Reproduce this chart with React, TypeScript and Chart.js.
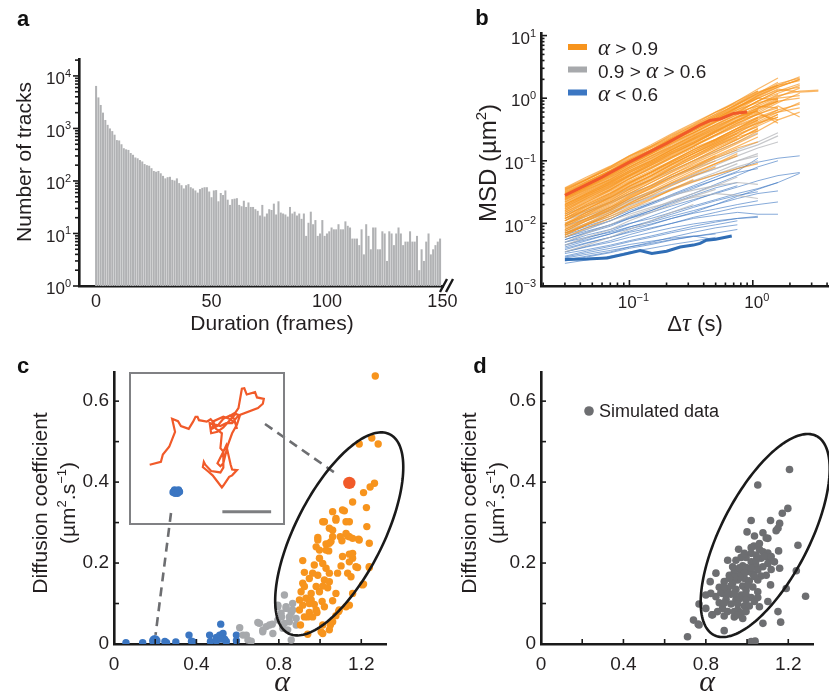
import React, { useEffect, useRef } from "react";
import { Chart, registerables } from "chart.js";
Chart.register(...registerables);

const SANS = '"Liberation Sans", Arial, Helvetica, sans-serif';
const SERIF = '"Liberation Serif", "Times New Roman", serif';
Chart.defaults.font.family = SANS;
Chart.defaults.color = "#222";

// ---------------- Panel a: histogram of track durations ----------------
const HIST_COUNTS = [
  6450, 3900, 2800, 2000, 1450, 1170, 1000, 890, 760, 600,
  590, 500, 420, 400, 390, 340, 315, 280, 270, 250,
  235, 210, 200, 195, 175, 155, 150, 155, 140, 125,
  112, 118, 120, 105, 102, 112, 91, 83, 72, 83,
  87, 76, 72, 66, 60, 70, 74, 76, 76, 63,
  49, 66, 67, 41, 59, 54, 66, 44, 35, 45,
  46, 47, 35, 33, 42, 32, 39, 32, 32, 29,
  27, 22, 35, 21, 24, 29, 28, 37, 23, 41,
  25, 24, 23, 21, 32, 24, 26, 22, 24, 19,
  24, 9, 16, 26, 15, 18, 9, 10, 18, 9,
  10, 11, 13, 12, 12, 15, 12, 12, 17, 14,
  13, 8, 8, 8, 6, 12, 4, 15, 9, 5,
  13, 13, 5, 5, 11, 10, 3, 11, 10, 6,
  10, 13, 10, 6, 7, 7, 11, 7, 7, 9,
  2, 5, 3, 7, 10, 4, 5, 6, 7, 8,
];
const A_XTICKS = [0, 50, 100, 150];
const A_YEXP = [0, 1, 2, 3, 4];

// ---------------- Panel b: MSD curves ----------------
const TAU = [0.03, 0.045, 0.07, 0.1, 0.15, 0.22, 0.33, 0.5, 0.75, 1.1, 1.6, 2.4, 3.4];
const ORANGE_TRACKS = [
  [0.036, 0.052, 0.08, 0.12, 0.17, 0.26, 0.38, 0.6, 0.85, 1.3],
  [0.033, 0.05, 0.075, 0.105, 0.16, 0.23, 0.35, 0.52, 0.8, 1.2, 1.8],
  [0.03, 0.044, 0.068, 0.1, 0.14, 0.21, 0.3, 0.44, 0.7, 1.05, 1.5, 2.0],
  [0.028, 0.04, 0.06, 0.09, 0.13, 0.2, 0.28, 0.42, 0.6, 0.9, 1.2, 1.6],
  [0.025, 0.037, 0.055, 0.08, 0.12, 0.17, 0.26, 0.38, 0.55, 0.8, 1.1, 1.3, 1.35],
  [0.024, 0.035, 0.05, 0.075, 0.11, 0.16, 0.24, 0.36, 0.5, 0.62, 0.9],
  [0.022, 0.032, 0.048, 0.07, 0.1, 0.15, 0.22, 0.32, 0.48, 0.7, 1.0],
  [0.02, 0.03, 0.045, 0.065, 0.095, 0.14, 0.2, 0.3, 0.42, 0.65],
  [0.02, 0.029, 0.042, 0.06, 0.09, 0.13, 0.19, 0.28, 0.4, 0.55, 0.75, 0.5],
  [0.018, 0.027, 0.04, 0.058, 0.085, 0.12, 0.18, 0.26, 0.37, 0.5],
  [0.017, 0.025, 0.037, 0.055, 0.08, 0.115, 0.17, 0.25, 0.36, 0.48, 0.6, 0.7],
  [0.016, 0.024, 0.035, 0.052, 0.075, 0.11, 0.16, 0.22, 0.33, 0.45],
  [0.015, 0.022, 0.033, 0.048, 0.07, 0.1, 0.15, 0.21, 0.3, 0.4, 0.5],
  [0.014, 0.021, 0.031, 0.046, 0.066, 0.095, 0.14, 0.2, 0.28, 0.42, 0.6, 0.85],
  [0.013, 0.019, 0.028, 0.042, 0.062, 0.09, 0.13, 0.19, 0.27, 0.35],
  [0.012, 0.018, 0.027, 0.04, 0.058, 0.085, 0.12, 0.18, 0.25, 0.38, 0.55],
  [0.012, 0.017, 0.025, 0.037, 0.055, 0.08, 0.115, 0.17, 0.24, 0.3],
  [0.011, 0.016, 0.024, 0.035, 0.05, 0.075, 0.11, 0.16, 0.23],
  [0.01, 0.015, 0.022, 0.032, 0.048, 0.07, 0.1, 0.15, 0.22, 0.32],
  [0.0095, 0.014, 0.021, 0.03, 0.045, 0.065, 0.095, 0.14, 0.2, 0.3, 0.45, 0.6],
  [0.009, 0.013, 0.019, 0.028, 0.041, 0.06, 0.085, 0.12, 0.17, 0.24],
  [0.0085, 0.012, 0.018, 0.026, 0.038, 0.055, 0.08, 0.115, 0.16, 0.2],
  [0.008, 0.0115, 0.017, 0.025, 0.036, 0.052, 0.075, 0.11, 0.15],
  [0.0075, 0.011, 0.016, 0.023, 0.033, 0.048, 0.07, 0.1],
  [0.007, 0.01, 0.015, 0.021, 0.03, 0.044, 0.062, 0.09, 0.13],
  [0.0065, 0.0095, 0.014, 0.02, 0.028, 0.04, 0.057, 0.08],
  [0.006, 0.0085, 0.012, 0.017, 0.024, 0.035, 0.05],
  [0.03, 0.045, 0.07, 0.1, 0.15, 0.22, 0.33, 0.5, 0.78, 1.15, 1.7, 2.1],
  [0.027, 0.04, 0.062, 0.095, 0.14, 0.21, 0.32, 0.47, 0.7, 1.0, 1.4, 1.25, 1.3],
  [0.023, 0.034, 0.052, 0.078, 0.115, 0.17, 0.25, 0.37, 0.55, 0.8, 1.15],
  [0.019, 0.028, 0.043, 0.064, 0.095, 0.14, 0.21, 0.31, 0.45, 0.68, 0.95],
  [0.015, 0.023, 0.035, 0.052, 0.078, 0.115, 0.17, 0.26, 0.4, 0.58, 0.85, 1.2],
  [0.013, 0.02, 0.03, 0.045, 0.066, 0.1, 0.15, 0.22, 0.33, 0.5, 0.65],
  [0.011, 0.017, 0.026, 0.039, 0.058, 0.088, 0.13, 0.2, 0.3, 0.44],
  [0.0095, 0.014, 0.022, 0.033, 0.05, 0.075, 0.11, 0.17, 0.25, 0.36, 0.5],
  [0.008, 0.012, 0.018, 0.027, 0.04, 0.06, 0.09, 0.13, 0.19, 0.27],
  [0.035, 0.05, 0.078, 0.115, 0.17, 0.25, 0.36, 0.55, 0.8, 1.2, 1.6],
  [0.032, 0.047, 0.07, 0.1, 0.15, 0.22, 0.32, 0.48, 0.72, 1.1, 1.5, 2.0],
  [0.026, 0.038, 0.058, 0.086, 0.13, 0.19, 0.28, 0.42, 0.62, 0.9, 1.3, 1.7],
  [0.021, 0.031, 0.047, 0.07, 0.105, 0.155, 0.23, 0.34, 0.5, 0.75, 1.05, 1.45],
  [0.007, 0.0095, 0.013, 0.018, 0.025, 0.034, 0.046, 0.06, 0.075, 0.09],
  [0.034, 0.05, 0.076, 0.11, 0.165, 0.24, 0.37, 0.56, 0.9, 1.4, 2.1],
  [0.031, 0.046, 0.07, 0.105, 0.15, 0.23, 0.34, 0.53, 0.82, 1.25, 1.6, 1.9],
  [0.029, 0.043, 0.066, 0.098, 0.145, 0.215, 0.33, 0.5, 0.74, 1.0, 0.95],
  [0.026, 0.039, 0.06, 0.09, 0.135, 0.2, 0.3, 0.46, 0.66, 0.85, 1.0, 1.1],
  [0.024, 0.036, 0.054, 0.08, 0.12, 0.18, 0.27, 0.41, 0.6, 0.75, 0.7],
  [0.022, 0.033, 0.05, 0.074, 0.11, 0.165, 0.25, 0.38, 0.58, 0.9, 1.3, 1.5],
  [0.02, 0.03, 0.046, 0.068, 0.1, 0.15, 0.23, 0.35, 0.52, 0.62],
  [0.018, 0.027, 0.041, 0.061, 0.091, 0.135, 0.2, 0.3, 0.45, 0.6, 0.4],
  [0.016, 0.025, 0.038, 0.057, 0.085, 0.125, 0.19, 0.29, 0.43, 0.66, 0.9],
  [0.014, 0.022, 0.034, 0.051, 0.076, 0.112, 0.17, 0.26, 0.38, 0.56, 0.7],
  [0.012, 0.019, 0.029, 0.044, 0.066, 0.098, 0.15, 0.22, 0.33, 0.48],
  [0.011, 0.017, 0.026, 0.039, 0.058, 0.087, 0.13, 0.19, 0.28, 0.4, 0.55],
  [0.0095, 0.015, 0.023, 0.035, 0.052, 0.078, 0.12, 0.18, 0.27],
  [0.037, 0.055, 0.082, 0.12, 0.18, 0.27, 0.4, 0.6, 0.9, 1.3],
  [0.028, 0.042, 0.064, 0.096, 0.14, 0.21, 0.31, 0.47, 0.72, 1.1, 1.6, 2.2],
  [0.025, 0.038, 0.057, 0.085, 0.128, 0.19, 0.28, 0.43, 0.65, 1.0, 1.35],
  [0.019, 0.029, 0.044, 0.066, 0.099, 0.148, 0.22, 0.33, 0.5, 0.7, 0.9, 1.0],
  [0.017, 0.026, 0.039, 0.058, 0.087, 0.13, 0.19, 0.29, 0.44, 0.55, 0.45],
  [0.0075, 0.011, 0.0165, 0.025, 0.037, 0.055, 0.08, 0.12],
  [0.0065, 0.0095, 0.014, 0.021, 0.031, 0.045, 0.065, 0.09, 0.12],
  [0.009, 0.0135, 0.02, 0.03, 0.045, 0.067, 0.1, 0.15, 0.22, 0.33],
  [0.013, 0.02, 0.03, 0.044, 0.065, 0.095, 0.14, 0.21, 0.31, 0.45, 0.65, 0.8],
];
const GRAY_TRACKS = [
  [0.012, 0.016, 0.022, 0.03, 0.04, 0.055, 0.075, 0.1, 0.14, 0.18, 0.25],
  [0.01, 0.013, 0.018, 0.024, 0.032, 0.043, 0.058, 0.075, 0.1, 0.13],
  [0.008, 0.011, 0.015, 0.02, 0.027, 0.036, 0.047, 0.06, 0.08, 0.1],
  [0.007, 0.0095, 0.013, 0.017, 0.022, 0.028, 0.034, 0.04, 0.045, 0.042],
  [0.006, 0.008, 0.011, 0.014, 0.018, 0.022, 0.026, 0.03, 0.028, 0.025],
  [0.005, 0.007, 0.0095, 0.013, 0.017, 0.023, 0.03, 0.04, 0.055],
  [0.0045, 0.006, 0.008, 0.011, 0.015, 0.02, 0.027, 0.035],
  [0.014, 0.019, 0.026, 0.036, 0.05, 0.07, 0.1, 0.14, 0.2, 0.28],
  [0.0035, 0.0045, 0.006, 0.008, 0.011, 0.015, 0.02],
  [0.009, 0.012, 0.017, 0.023, 0.031, 0.042, 0.06, 0.085, 0.12, 0.16, 0.2],
  [0.011, 0.015, 0.021, 0.029, 0.04, 0.056, 0.078, 0.11, 0.15, 0.2, 0.28],
  [0.009, 0.012, 0.016, 0.022, 0.03, 0.041, 0.056, 0.075, 0.1, 0.12],
  [0.0075, 0.01, 0.014, 0.019, 0.026, 0.035, 0.048, 0.065, 0.09],
];
const BLUE_TRACKS = [
  [0.0065, 0.0085, 0.011, 0.015, 0.02, 0.027, 0.036, 0.05, 0.068, 0.11],
  [0.006, 0.0075, 0.0095, 0.012, 0.015, 0.019, 0.024, 0.03, 0.038, 0.048, 0.058, 0.065],
  [0.005, 0.0065, 0.008, 0.01, 0.012, 0.015, 0.019, 0.024, 0.03, 0.036, 0.045],
  [0.0045, 0.0055, 0.0068, 0.0082, 0.0098, 0.012, 0.0145, 0.017, 0.02, 0.023],
  [0.004, 0.0049, 0.006, 0.0072, 0.0085, 0.01, 0.012, 0.0135, 0.015, 0.014, 0.014],
  [0.0035, 0.0042, 0.005, 0.006, 0.0072, 0.0085, 0.0098, 0.011, 0.012, 0.013],
  [0.003, 0.0036, 0.0043, 0.0051, 0.006, 0.0071, 0.0083, 0.0095, 0.011],
  [0.0028, 0.0032, 0.0037, 0.0042, 0.0048, 0.0055, 0.0062, 0.0068],
  [0.0025, 0.0029, 0.0034, 0.004, 0.0046, 0.0054, 0.0062, 0.007, 0.008],
  [0.0023, 0.0026, 0.003, 0.0035, 0.004, 0.0046, 0.0052, 0.006],
  [0.0055, 0.0072, 0.0095, 0.0125, 0.016, 0.021, 0.028, 0.037, 0.045],
  [0.0042, 0.0053, 0.0068, 0.0087, 0.011, 0.014, 0.018, 0.023, 0.028, 0.032],
  [0.0033, 0.0038, 0.0045, 0.0053, 0.0063, 0.0075, 0.009, 0.0105, 0.012, 0.0125],
  [0.0038, 0.0048, 0.006, 0.0075, 0.0095, 0.012, 0.015, 0.02, 0.027, 0.035, 0.045, 0.063],
  [0.007, 0.009, 0.012, 0.016, 0.021, 0.028, 0.038, 0.05, 0.065, 0.075],
  [0.0029, 0.0034, 0.004, 0.0046, 0.0052, 0.0058, 0.0063, 0.0055],
  [0.0026, 0.003, 0.0035, 0.0042, 0.005, 0.006, 0.0072, 0.0085, 0.0095],
  [0.005, 0.006, 0.0072, 0.0088, 0.0105, 0.013, 0.016, 0.02, 0.025, 0.03, 0.033],
  [0.0055, 0.007, 0.009, 0.012, 0.016, 0.022, 0.03, 0.042, 0.058, 0.08, 0.1],
  [0.0045, 0.0058, 0.0075, 0.0098, 0.013, 0.017, 0.023, 0.031, 0.04],
  [0.006, 0.008, 0.011, 0.015, 0.021, 0.029, 0.04, 0.055, 0.075, 0.095, 0.11, 0.12],
  [0.0035, 0.0043, 0.0053, 0.0066, 0.0082, 0.01, 0.0125, 0.015, 0.018, 0.02, 0.022],
];
const RED_MEAN_TAU = [0.03, 0.06, 0.1, 0.2, 0.37, 0.45, 0.55, 0.7, 0.9];
const RED_MEAN_MSD = [0.028, 0.055, 0.095, 0.19, 0.37, 0.44, 0.47, 0.57, 0.6];
const BLUE_MEAN_TAU = [0.03, 0.045, 0.066, 0.09, 0.122, 0.152, 0.2, 0.258, 0.33, 0.374, 0.42, 0.5, 0.675];
const BLUE_MEAN_MSD = [0.00266, 0.0027, 0.0028, 0.0032, 0.0037, 0.0033, 0.0036, 0.0042, 0.0045, 0.0048, 0.0054, 0.0056, 0.0063];
const B_YEXP = [-3, -2, -1, 0, 1];
const B_XEXP = [-1, 0];
const B_LEGEND = ["α > 0.9", "0.9 > α > 0.6", "α < 0.6"];

// ---------------- Panel c: measured alpha vs D ----------------
const C_ORANGE = [
  [1.268, 0.662], [1.251, 0.509], [1.19, 0.494], [1.282, 0.494], [1.264, 0.397], [1.243, 0.388], [1.211, 0.374],
  [1.158, 0.351], [1.225, 0.337], [1.118, 0.329], [1.077, 0.31], [1.126, 0.302], [1.142, 0.302], [1.021, 0.302],
  [1.227, 0.29], [1.061, 0.281], [0.989, 0.263], [1.098, 0.265], [1.134, 0.267], [1.158, 0.261], [1.187, 0.259],
  [1.106, 0.255], [1.053, 0.253], [1.029, 0.247], [0.981, 0.24], [1.042, 0.23], [1.142, 0.222], [1.158, 0.212],
  [0.997, 0.212], [0.972, 0.195], [1.013, 0.199], [1.102, 0.193], [1.182, 0.189], [1.239, 0.189], [0.916, 0.206],
  [1.029, 0.187], [0.924, 0.177], [0.989, 0.17], [1.045, 0.175], [1.085, 0.175], [1.134, 0.175], [1.15, 0.166],
  [0.948, 0.162], [1.021, 0.158], [1.045, 0.154], [1.211, 0.148], [0.916, 0.15], [0.981, 0.142], [1.013, 0.143],
  [1.037, 0.139], [0.908, 0.129], [0.957, 0.125], [0.997, 0.129], [1.077, 0.125], [0.932, 0.113], [0.957, 0.109],
  [1.01, 0.105], [1.061, 0.107], [1.142, 0.096], [0.916, 0.096], [0.972, 0.098], [1.021, 0.092], [0.9, 0.084],
  [0.948, 0.078], [0.985, 0.078], [1.09, 0.08], [1.077, 0.07], [0.94, 0.067], [0.905, 0.047], [1.013, 0.047],
  [1.05, 0.047], [0.94, 0.024], [1.005, 0.03], [0.964, 0.175], [0.924, 0.142], [0.9, 0.109], [0.948, 0.1],
  [0.981, 0.084], [0.924, 0.067], [0.964, 0.067], [1.013, 0.026], [1.045, 0.035], [1.061, 0.055], [1.093, 0.084],
  [1.126, 0.092], [1.158, 0.125], [1.206, 0.146], [1.239, 0.191], [1.174, 0.191], [1.142, 0.203], [1.109, 0.216],
  [1.158, 0.224], [1.19, 0.257], [1.239, 0.249], [1.142, 0.265], [1.126, 0.273], [1.061, 0.265], [1.045, 0.249],
  [1.029, 0.232], [0.997, 0.232], [0.989, 0.257], [1.045, 0.286], [1.077, 0.306], [1.013, 0.302], [1.061, 0.327],
  [1.109, 0.331],
];
const C_GRAY = [
  [0.61, 0.04], [0.626, 0.022], [0.65, 0.01], [0.666, 0.007], [0.698, 0.053], [0.722, 0.03], [0.739, 0.043],
  [0.768, 0.049], [0.771, 0.026], [0.795, 0.096], [0.811, 0.076], [0.819, 0.039], [0.835, 0.088], [0.851, 0.055],
  [0.86, 0.077], [0.867, 0.1], [0.795, 0.059], [0.843, 0.035], [0.86, 0.01], [0.827, 0.121], [0.795, 0.092],
  [0.835, 0.092], [0.867, 0.084], [0.851, 0.067], [0.755, 0.047], [0.706, 0.051], [0.722, 0.034], [0.642, 0.022],
  [0.827, 0.051], [0.884, 0.063], [0.884, 0.047], [0.813, 0.067],
];
const C_BLUE = [
  [0.058, 0.003], [0.139, 0.003], [0.247, 0.006], [0.255, 0.003], [0.3, 0.005], [0.364, 0.022], [0.376, 0.007],
  [0.384, 0.005], [0.464, 0.022], [0.468, 0.006], [0.497, 0.016], [0.513, 0.022], [0.518, 0.049], [0.529, 0.026],
  [0.537, 0.012], [0.545, 0.006], [0.594, 0.022], [0.594, 0.008], [0.497, 0.008], [0.521, 0.012],
];
const C_HIGHLIGHT_BLUE = [0.198, 0.008];
const C_HIGHLIGHT_RED = [1.142, 0.398];
const XTICKS_CD = [0, 0.2, 0.4, 0.6, 0.8, 1.0, 1.2];
const XLABELS_CD = [0, 0.4, 0.8, 1.2];
const YTICKS_CD = [0, 0.1, 0.2, 0.3, 0.4, 0.5, 0.6];
const YLABELS_CD = [0, 0.2, 0.4, 0.6];
// 95% ellipse: centre and two semi-axis vectors in data units (alpha, D)
const C_ELLIPSE = { cx: 1.093, cy: 0.272, ux: 0.246, uy: 0.246, vx: -0.19, vy: 0.049 };
const D_ELLIPSE = { cx: 1.088, cy: 0.268, ux: 0.248, uy: 0.246, vx: -0.191, vy: 0.049 };

// inset trajectories (µm)
const TRAJ_X = [0.25, 0.48, 0.52, 0.65, 0.77, 0.71, 0.83, 0.89, 1.05, 1.14, 1.19, 1.23, 1.26, 1.42, 1.5, 1.57, 1.52,
  1.64, 1.76, 1.91, 2.01, 2.07, 2.14, 2.19, 2.24, 2.41, 2.45, 2.59, 2.57, 2.47, 2.07, 1.94, 1.82, 1.7, 1.48, 1.51,
  1.64, 1.76, 2.01, 2.1, 2.04, 1.94, 1.85, 1.76, 1.7, 1.64, 1.76, 1.82, 1.91, 1.94, 2.04, 1.94, 1.88, 1.76, 1.73,
  1.61, 1.54, 1.45, 1.34, 1.36, 1.39, 1.51, 1.7, 1.76, 1.76, 1.7, 1.73, 1.61, 1.54, 1.76, 1.88, 2.01, 2.04, 1.98, 1.88];
const TRAJ_Y = [1.07, 1.13, 1.28, 1.44, 1.75, 2.02, 1.97, 1.87, 1.81, 1.96, 2.06, 2.06, 1.99, 1.96, 2.01, 1.93, 1.81,
  1.87, 2.02, 2.09, 2.15, 2.24, 2.64, 2.65, 2.52, 2.57, 2.46, 2.43, 2.33, 2.24, 2.09, 1.93, 1.93, 1.87, 1.93, 1.72,
  1.75, 1.84, 2.12, 2.09, 1.9, 1.72, 1.47, 1.1, 1.04, 1.1, 1.34, 1.47, 1.07, 0.97, 0.96, 0.85, 0.82, 0.64, 0.6,
  0.76, 0.85, 0.93, 1.02, 1.13, 1.07, 0.94, 0.91, 1.01, 1.34, 1.41, 1.72, 1.81, 1.96, 2.06, 2.02, 1.93, 1.81, 2.02, 2.1];
const BLOB_X = [0.73, 0.76, 0.8, 0.84, 0.86, 0.82, 0.77, 0.75, 0.8, 0.83];
const BLOB_Y = [0.5, 0.55, 0.53, 0.55, 0.51, 0.48, 0.48, 0.52, 0.5, 0.52];
const SCALEBAR_X = [1.74, 2.74];
const SCALEBAR_Y = [0.1, 0.1];

// ---------------- Panel d: simulated alpha vs D ----------------
const D_SIM = [
  [1.206, 0.431], [1.052, 0.393], [1.198, 0.335], [1.171, 0.323], [1.02, 0.305], [1.114, 0.305], [1.158, 0.298],
  [1.15, 0.286], [1.141, 0.28], [1.0, 0.277], [1.077, 0.275], [1.036, 0.267], [1.101, 0.261], [1.093, 0.262],
  [1.247, 0.244], [1.033, 0.242], [0.959, 0.234], [1.06, 0.234], [1.077, 0.228], [1.101, 0.225], [1.153, 0.23],
  [1.02, 0.224], [1.044, 0.22], [0.971, 0.214], [0.995, 0.214], [1.068, 0.212], [1.109, 0.207], [0.946, 0.207],
  [1.02, 0.203], [1.101, 0.199], [1.133, 0.203], [0.979, 0.193], [1.044, 0.193], [1.077, 0.191], [1.158, 0.187],
  [1.117, 0.184], [1.239, 0.181], [0.938, 0.179], [1.003, 0.179], [0.971, 0.175], [1.028, 0.173], [0.849, 0.175],
  [0.914, 0.17], [1.068, 0.168], [0.987, 0.162], [0.955, 0.158], [1.011, 0.156], [0.889, 0.154], [0.93, 0.15],
  [0.821, 0.154], [1.114, 0.146], [0.979, 0.143], [1.028, 0.141], [0.865, 0.14], [0.906, 0.137], [0.946, 0.135],
  [0.995, 0.132], [1.19, 0.137], [1.052, 0.129], [0.881, 0.125], [0.922, 0.123], [0.971, 0.121], [1.284, 0.118],
  [0.849, 0.117], [1.02, 0.115], [0.898, 0.11], [0.946, 0.109], [1.101, 0.105], [0.865, 0.102], [0.922, 0.099],
  [0.987, 0.094], [0.767, 0.099], [1.06, 0.092], [0.881, 0.088], [0.955, 0.084], [0.8, 0.088], [0.971, 0.077],
  [1.15, 0.08], [0.833, 0.072], [0.889, 0.069], [0.938, 0.067], [0.979, 0.063], [0.74, 0.059], [0.763, 0.049],
  [1.077, 0.051], [1.163, 0.054], [0.889, 0.033], [1.02, 0.006], [1.039, 0.007], [0.711, 0.018], [0.8, 0.121],
  [0.906, 0.207], [0.93, 0.191], [0.963, 0.188], [0.995, 0.189], [1.02, 0.188], [0.987, 0.175], [0.963, 0.167],
  [0.938, 0.165], [0.914, 0.162], [1.052, 0.158], [0.873, 0.127], [0.906, 0.125], [0.938, 0.125], [0.995, 0.121],
  [0.963, 0.112], [0.995, 0.109], [1.036, 0.105], [0.889, 0.101], [0.955, 0.099], [1.011, 0.094], [0.906, 0.08],
  [0.995, 0.08], [0.938, 0.08], [0.955, 0.072], [0.857, 0.08], [1.044, 0.207], [1.052, 0.183], [1.093, 0.17],
  [1.036, 0.167], [1.003, 0.146], [0.922, 0.144], [0.889, 0.14], [0.824, 0.125], [1.052, 0.115], [1.085, 0.216],
  [1.117, 0.216], [1.06, 0.248], [1.02, 0.238], [0.987, 0.224], [0.767, 0.047], [0.829, 0.072],
];

// ---------------- colours ----------------
const ORANGE = "#f7941d";
const GRAY = "#a7a9ac";
const BLUE = "#3b76c2";
const RED = "#f15a29";
const DARKGRAY = "#6d6e71";
const AXIS = "#1a1a1a";

// ---------------- helpers ----------------
type Run = { t: string; size: number; sup?: boolean; italic?: boolean; serif?: boolean; bold?: boolean };
function fontOf(r: Run) {
  return `${r.italic ? "italic " : ""}${r.bold ? "bold " : ""}${r.size}px ${r.serif ? SERIF : SANS}`;
}
function drawRuns(ctx: any, runs: Run[], x: number, y: number, align: string, color = "#231f20") {
  ctx.save();
  ctx.fillStyle = color;
  ctx.textBaseline = "alphabetic";
  ctx.textAlign = "left";
  let total = 0;
  const widths = runs.map((r) => {
    ctx.font = fontOf(r);
    const w = ctx.measureText(r.t).width;
    total += w;
    return w;
  });
  let cx = align === "left" ? x : align === "right" ? x - total : x - total / 2;
  const baseSize = Math.max(...runs.filter((r) => !r.sup).map((r) => r.size));
  const baseline = y + baseSize * 0.36;
  runs.forEach((r, i) => {
    ctx.font = fontOf(r);
    ctx.fillText(r.t, cx, r.sup ? baseline - baseSize * 0.42 : baseline);
    cx += widths[i];
  });
  ctx.restore();
}
function drawRotated(ctx: any, runs: Run[], x: number, y: number) {
  ctx.save();
  ctx.translate(x, y);
  ctx.rotate(-Math.PI / 2);
  drawRuns(ctx, runs, 0, 0, "center");
  ctx.restore();
}
function powRuns(e: number, size = 17): Run[] {
  return [{ t: "10", size }, { t: e < 0 ? "−" + Math.abs(e) : String(e), size: Math.round(size * 0.64), sup: true }];
}
function letter(ctx: any, s: string, x: number, y: number) {
  drawRuns(ctx, [{ t: s, size: 22, bold: true }], x, y, "center", "#111");
}
function isPow10(v: number) {
  const l = Math.log10(v);
  return Math.abs(l - Math.round(l)) < 1e-6;
}
function logTicks(min: number, max: number) {
  const out: any[] = [];
  for (let e = Math.floor(Math.log10(min)); e <= Math.ceil(Math.log10(max)); e++) {
    for (let m = 1; m < 10; m++) {
      const v = m * Math.pow(10, e);
      if (v >= min * 0.9999 && v <= max * 1.0001) out.push({ value: v });
    }
  }
  return out;
}
function tickMarks(ctx: any, scale: any, area: any, axis: string, inward: boolean, majorLen: number, minorLen: number, majorFn: (v: number) => boolean) {
  ctx.save();
  ctx.strokeStyle = AXIS;
  ctx.lineWidth = 1.6;
  for (const t of scale.ticks) {
    const p = scale.getPixelForValue(t.value);
    const len = majorFn(t.value) ? majorLen : minorLen;
    ctx.beginPath();
    if (axis === "y") {
      const x0 = area.left;
      ctx.moveTo(x0, p);
      ctx.lineTo(inward ? x0 + len : x0 - len, p);
    } else {
      const y0 = area.bottom;
      ctx.moveTo(p, y0);
      ctx.lineTo(p, inward ? y0 - len : y0 + len);
    }
    ctx.stroke();
  }
  ctx.restore();
}
function drawEllipse(ctx: any, xs: any, ys: any, E: any) {
  ctx.save();
  ctx.beginPath();
  for (let k = 0; k <= 180; k++) {
    const t = (k / 180) * Math.PI * 2;
    const ax = E.cx + Math.cos(t) * E.ux + Math.sin(t) * E.vx;
    const ay = E.cy + Math.cos(t) * E.uy + Math.sin(t) * E.vy;
    const px = xs.getPixelForValue(ax);
    const py = ys.getPixelForValue(ay);
    if (k === 0) ctx.moveTo(px, py);
    else ctx.lineTo(px, py);
  }
  ctx.closePath();
  ctx.lineWidth = 2.6;
  ctx.strokeStyle = AXIS;
  ctx.stroke();
  ctx.restore();
}
const border = { display: true, color: AXIS, width: 2.6 };
const noGrid = { display: false, drawTicks: false };
const baseOpts = (extra: any) => ({
  responsive: false,
  animation: false,
  devicePixelRatio: 1,
  events: [],
  plugins: { legend: { display: false }, tooltip: { enabled: false } },
  ...extra,
});

// ---------------- chart configs ----------------
function buildA() {
  return {
    type: "bar",
    data: {
      datasets: [
        {
          data: HIST_COUNTS.map((c, i) => ({ x: i, y: c })),
          backgroundColor: "#b1b2b4",
          borderWidth: 0,
          categoryPercentage: 0.88,
          barPercentage: 1,
        },
      ],
    },
    options: baseOpts({
      layout: { padding: { top: 59, right: 23, left: 0, bottom: 0 } },
      scales: {
        x: {
          type: "linear",
          min: -7.4,
          max: 152,
          offset: false,
          afterBuildTicks: (s: any) => { s.ticks = A_XTICKS.map((v) => ({ value: v })); },
          afterFit: (s: any) => { s.height = 54; },
          grid: noGrid,
          border,
          ticks: { color: "#231f20", font: { size: 18 }, padding: 5, maxRotation: 0, autoSkip: false },
        },
        y: {
          type: "logarithmic",
          min: 1,
          max: 21000,
          afterBuildTicks: (s: any) => { s.ticks = logTicks(1, 21000); },
          afterFit: (s: any) => { s.width = 79; },
          grid: noGrid,
          border,
          ticks: { display: false },
        },
      },
    }),
    plugins: [
      {
        id: "decorA",
        afterDraw(chart: any) {
          const ctx = chart.ctx;
          const a = chart.chartArea;
          const ys = chart.scales.y;
          tickMarks(ctx, ys, a, "y", false, 6, 4, isPow10);
          A_YEXP.forEach((e) => drawRuns(ctx, powRuns(e), a.left - 8, ys.getPixelForValue(Math.pow(10, e)) + 2, "right"));
          drawRotated(ctx, [{ t: "Number of tracks", size: 21 }], 23, 162);
          drawRuns(ctx, [{ t: "Duration (frames)", size: 21 }], 272, 322, "center");
          // axis break marks
          ctx.save();
          ctx.strokeStyle = AXIS;
          ctx.lineWidth = 2.4;
          ctx.fillStyle = "#fff";
          ctx.fillRect(444, 282, 6, 8);
          ctx.beginPath();
          ctx.moveTo(440, 292); ctx.lineTo(447, 279);
          ctx.moveTo(446, 292); ctx.lineTo(453, 279);
          ctx.stroke();
          ctx.restore();
          letter(ctx, "a", 23, 18);
        },
      },
    ],
  };
}

function lineDs(taus: number[], vals: number[], color: string, width: number, order: number) {
  return {
    data: vals.map((v, i) => ({ x: taus[i], y: v })),
    borderColor: color,
    borderWidth: width,
    pointRadius: 0,
    tension: 0,
    fill: false,
    order,
  };
}

function buildB() {
  const datasets: any[] = [
    lineDs(RED_MEAN_TAU, RED_MEAN_MSD, RED, 3, 0),
    lineDs(BLUE_MEAN_TAU, BLUE_MEAN_MSD, "#2f6db5", 3, 0),
    ...ORANGE_TRACKS.map((t) => lineDs(TAU, t, "rgba(247,148,29,0.66)", 1.25, 1)),
    ...GRAY_TRACKS.map((t) => lineDs(TAU, t, "rgba(180,182,185,0.75)", 1.2, 2)),
    ...BLUE_TRACKS.map((t) => lineDs(TAU, t, "rgba(59,118,194,0.62)", 1.0, 3)),
  ];
  return {
    type: "line",
    data: { datasets },
    options: baseOpts({
      layout: { padding: { top: 33, right: 1, left: 0, bottom: 0 } },
      scales: {
        x: {
          type: "logarithmic",
          min: 0.0192,
          max: 4.07,
          afterBuildTicks: (s: any) => { s.ticks = logTicks(0.0192, 4.07); },
          afterFit: (s: any) => { s.height = 54; },
          grid: noGrid,
          border,
          ticks: { display: false },
        },
        y: {
          type: "logarithmic",
          min: 0.001,
          max: 11,
          afterBuildTicks: (s: any) => { s.ticks = logTicks(0.001, 11); },
          afterFit: (s: any) => { s.width = 71; },
          grid: noGrid,
          border,
          ticks: { display: false },
        },
      },
    }),
    plugins: [
      {
        id: "decorB",
        afterDraw(chart: any) {
          const ctx = chart.ctx;
          const a = chart.chartArea;
          const xs = chart.scales.x;
          const ys = chart.scales.y;
          tickMarks(ctx, ys, a, "y", true, 6, 3.5, isPow10);
          tickMarks(ctx, xs, a, "x", true, 6, 3.5, isPow10);
          B_YEXP.forEach((e) => drawRuns(ctx, powRuns(e), a.left - 5, ys.getPixelForValue(Math.pow(10, e)) + 2, "right"));
          B_XEXP.forEach((e) => drawRuns(ctx, powRuns(e), xs.getPixelForValue(Math.pow(10, e)) + 4, 302, "center"));
          drawRotated(ctx, [{ t: "MSD (µm", size: 24 }, { t: "2", size: 15, sup: true }, { t: ")", size: 24 }], 17, 163);
          drawRuns(ctx, [{ t: "Δ", size: 22 }, { t: "τ", size: 25, italic: true, serif: true }, { t: " (s)", size: 22 }], 225, 322, "center");
          // legend
          const colors = [ORANGE, GRAY, BLUE];
          const ys0 = [47, 69.5, 92.5];
          B_LEGEND.forEach((label, i) => {
            ctx.save();
            ctx.fillStyle = colors[i];
            ctx.fillRect(98, ys0[i] - 3, 19, 6);
            ctx.restore();
            const runs: Run[] = [];
            label.split(/(α)/).forEach((part) => {
              if (!part) return;
              if (part === "α") runs.push({ t: "α", size: 23, italic: true, serif: true });
              else runs.push({ t: part, size: 19 });
            });
            drawRuns(ctx, runs, 128, ys0[i], "left");
          });
          letter(ctx, "b", 12, 17);
        },
      },
    ],
  };
}

function scatterDs(points: number[][], color: string, r: number, order: number) {
  return {
    data: points.map((p) => ({ x: p[0], y: p[1] })),
    backgroundColor: color,
    borderWidth: 0,
    pointRadius: r,
    order,
  };
}
function cdScales(yWidth: number) {
  return {
    x: {
      type: "linear",
      min: 0,
      max: 1.32,
      afterBuildTicks: (s: any) => { s.ticks = XTICKS_CD.map((v) => ({ value: v })); },
      afterFit: (s: any) => { s.height = 48; },
      grid: noGrid,
      border,
      ticks: {
        color: "#231f20",
        font: { size: 19 },
        padding: 9,
        maxRotation: 0,
        autoSkip: false,
        callback: (v: number) => (XLABELS_CD.includes(v) ? String(v) : ""),
      },
    },
    y: {
      type: "linear",
      min: 0,
      max: 0.672,
      afterBuildTicks: (s: any) => { s.ticks = YTICKS_CD.map((v) => ({ value: v })); },
      afterFit: (s: any) => { s.width = yWidth; },
      grid: noGrid,
      border,
      ticks: {
        color: "#231f20",
        font: { size: 19 },
        padding: 5,
        autoSkip: false,
        callback: (v: number) => (YLABELS_CD.includes(v) ? String(v) : ""),
      },
    },
  };
}
const diffTitle: Run[] = [{ t: "Diffusion coefficient", size: 21 }];
const unitTitle: Run[] = [
  { t: "(µm", size: 21 }, { t: "2", size: 13, sup: true }, { t: ".s", size: 21 },
  { t: "−1", size: 13, sup: true }, { t: ")", size: 21 },
];

function buildC() {
  return {
    type: "scatter",
    data: {
      datasets: [
        scatterDs([C_HIGHLIGHT_RED], RED, 6.2, 0),
        scatterDs([C_HIGHLIGHT_BLUE], BLUE, 5.8, 0),
        scatterDs(C_ORANGE, ORANGE, 3.7, 1),
        scatterDs(C_GRAY, GRAY, 3.7, 2),
        scatterDs(C_BLUE, BLUE, 3.7, 3),
      ],
    },
    options: baseOpts({
      layout: { padding: { top: 32, right: 34, left: 0, bottom: 0 } },
      scales: cdScales(114),
    }),
    plugins: [
      {
        id: "decorC",
        beforeDatasetsDraw(chart: any) {
          const ctx = chart.ctx;
          const xs = chart.scales.x;
          const ys = chart.scales.y;
          const seg = (sx: number, sy: number, p: number[], shorten: number) => {
            const ex = xs.getPixelForValue(p[0]);
            const ey = ys.getPixelForValue(p[1]);
            const d = Math.hypot(ex - sx, ey - sy);
            const k = (d - shorten) / d;
            ctx.beginPath();
            ctx.moveTo(sx, sy);
            ctx.lineTo(sx + (ex - sx) * k, sy + (ey - sy) * k);
            ctx.stroke();
          };
          ctx.save();
          ctx.strokeStyle = DARKGRAY;
          ctx.lineWidth = 2.6;
          ctx.setLineDash([9, 6]);
          seg(265, 84, C_HIGHLIGHT_RED, 16);
          seg(171, 173, C_HIGHLIGHT_BLUE, 6);
          ctx.restore();
        },
        afterDraw(chart: any) {
          const ctx = chart.ctx;
          const a = chart.chartArea;
          const xs = chart.scales.x;
          const ys = chart.scales.y;
          tickMarks(ctx, ys, a, "y", true, 5, 5, () => true);
          tickMarks(ctx, xs, a, "x", true, 5, 5, () => true);
          drawEllipse(ctx, xs, ys, C_ELLIPSE);
          drawRotated(ctx, diffTitle, 39, 163);
          drawRotated(ctx, unitTitle, 67, 163);
          drawRuns(ctx, [{ t: "α", size: 30, italic: true, serif: true }], 282, 340, "center");
          letter(ctx, "c", 23, 25);
        },
      },
    ],
  };
}

function buildInset() {
  return {
    type: "scatter",
    data: {
      datasets: [
        {
          data: TRAJ_X.map((x, i) => ({ x, y: TRAJ_Y[i] })),
          showLine: true,
          borderColor: RED,
          borderWidth: 2.2,
          pointRadius: 0,
          tension: 0,
        },
        {
          data: BLOB_X.map((x, i) => ({ x, y: BLOB_Y[i] })),
          showLine: true,
          borderColor: BLUE,
          backgroundColor: BLUE,
          borderWidth: 2.5,
          pointRadius: 2.5,
        },
        {
          data: SCALEBAR_X.map((x, i) => ({ x, y: SCALEBAR_Y[i] })),
          showLine: true,
          borderColor: "#7d7e81",
          borderWidth: 3,
          pointRadius: 0,
        },
      ],
    },
    options: baseOpts({
      layout: { padding: 0 },
      scales: {
        x: { type: "linear", min: 0, max: 2.85, display: false },
        y: { type: "linear", min: 0, max: 2.81, display: false },
      },
    }),
  };
}

function buildD() {
  return {
    type: "scatter",
    data: { datasets: [scatterDs(D_SIM, DARKGRAY, 3.8, 1)] },
    options: baseOpts({
      layout: { padding: { top: 32, right: 16, left: 0, bottom: 0 } },
      scales: cdScales(121),
    }),
    plugins: [
      {
        id: "decorD",
        afterDraw(chart: any) {
          const ctx = chart.ctx;
          const a = chart.chartArea;
          const xs = chart.scales.x;
          const ys = chart.scales.y;
          tickMarks(ctx, ys, a, "y", true, 5, 5, () => true);
          tickMarks(ctx, xs, a, "x", true, 5, 5, () => true);
          drawEllipse(ctx, xs, ys, D_ELLIPSE);
          drawRotated(ctx, diffTitle, 48, 163);
          drawRotated(ctx, unitTitle, 76, 163);
          drawRuns(ctx, [{ t: "α", size: 30, italic: true, serif: true }], 287, 340, "center");
          // legend
          ctx.save();
          ctx.fillStyle = DARKGRAY;
          ctx.beginPath();
          ctx.arc(169, 71, 4.8, 0, Math.PI * 2);
          ctx.fill();
          ctx.restore();
          drawRuns(ctx, [{ t: "Simulated data", size: 18 }], 179, 71, "left");
          letter(ctx, "d", 60, 25);
        },
      },
    ],
  };
}

function ChartCanvas({ x, y, w, h, build }: { x: number; y: number; w: number; h: number; build: () => any }) {
  const ref = useRef<HTMLCanvasElement | null>(null);
  useEffect(() => {
    const chart = new Chart(ref.current as HTMLCanvasElement, build());
    return () => chart.destroy();
  }, []);
  return <canvas ref={ref} width={w} height={h} style={{ position: "absolute", left: x, top: y, width: w, height: h }} />;
}

export default function App() {
  return (
    <div style={{ position: "absolute", left: 0, top: 0, width: 829, height: 692, background: "#fff", overflow: "hidden" }}>
      <ChartCanvas x={0} y={0} w={470} h={340} build={buildA} />
      <ChartCanvas x={470} y={0} w={359} h={340} build={buildB} />
      <ChartCanvas x={0} y={340} w={420} h={352} build={buildC} />
      <ChartCanvas x={420} y={340} w={409} h={352} build={buildD} />
      <div style={{ position: "absolute", left: 129, top: 372, width: 156, height: 153, border: "2px solid #808184", boxSizing: "border-box" }} />
      <ChartCanvas x={131} y={374} w={152} h={149} build={buildInset} />
    </div>
  );
}
